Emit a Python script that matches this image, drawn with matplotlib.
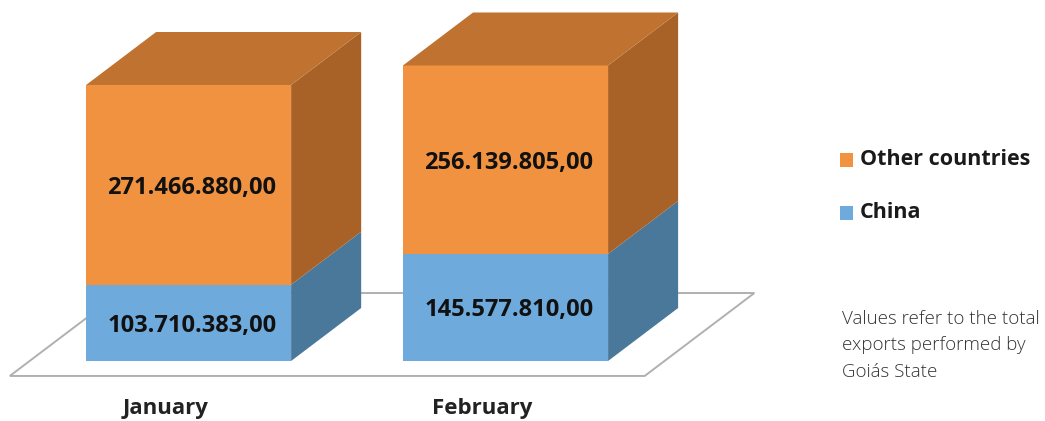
import matplotlib.pyplot as plt
from matplotlib.patches import Polygon

months = ['January', 'February']
china = [103710383.00, 145577810.00]
other = [271466880.00, 256139805.00]
series = ['China', 'Other countries']

front_c = {'China': '#6eaadc', 'Other countries': '#f09240'}
side_c = {'China': '#4a789a', 'Other countries': '#a86228'}
top_c = {'China': '#5a90bc', 'Other countries': '#c07230'}

fmt = lambda v: f'{v:,.2f}'.replace(',', 'X').replace('.', ',').replace('X', '.')

# oblique "3d" projection: x in category units, y in millions
W = 0.647          # bar width
DX, DY = 0.221, 72.0   # depth offset
def P(x, y, d):
    return (x + d * DX, y + d * DY)

fig = plt.figure(figsize=(10.45, 4.21), dpi=100)
ax = fig.add_axes([0, 0, 1, 1])
ax.set_xlim(-0.595, 2.702)
ax.set_ylim(-81.6, 490.7)
ax.axis('off')

# floor
fl, fr = -W / 2 - 0.178, 1 + W / 2 + 0.178
d0, d1 = -0.283, 1.283
ax.add_patch(Polygon([P(fl, 0, d0), P(fr, 0, d0), P(fr, 0, d1), P(fl, 0, d1)],
                     closed=True, facecolor='white', edgecolor='#b0b0b0', lw=1.4, zorder=1))

for i, m in enumerate(months):
    l, r = i - W / 2, i + W / 2
    base = 0
    vals = {'China': china[i] / 1e6, 'Other countries': other[i] / 1e6}
    for s in series:
        h = vals[s]
        lo, hi = base, base + h
        ax.add_patch(Polygon([P(l, lo, 0), P(r, lo, 0), P(r, hi, 0), P(l, hi, 0)],
                             closed=True, facecolor=front_c[s], lw=0, zorder=3))
        ax.add_patch(Polygon([P(r, lo, 0), P(r, lo, 1), P(r, hi, 1), P(r, hi, 0)],
                             closed=True, facecolor=side_c[s], lw=0, zorder=3))
        ax.text(i + 0.01, (lo + hi) / 2, fmt(h * 1e6), ha='center', va='center_baseline',
                fontsize=17, fontweight='bold', family='Open Sans', color='#111111', zorder=5)
        base = hi
    ax.add_patch(Polygon([P(l, base, 0), P(r, base, 0), P(r, base, 1), P(l, base, 1)],
                         closed=True, facecolor=top_c['Other countries'], lw=0, zorder=3))
    ax.text(P(i, 0, d0)[0] - 0.01, -61, m, ha='center', va='center_baseline',
            fontsize=16, fontweight='bold', family='Open Sans', color='#222222')

# legend
for j, s in enumerate(['Other countries', 'China']):
    y = 0.62 - j * 0.125
    fig.patches.append(plt.Rectangle((0.804, y - 0.017), 0.0125, 0.033, transform=fig.transFigure,
                                     facecolor=front_c[s], edgecolor='none'))
    fig.text(0.823, y, s, ha='left', va='center', fontsize=15.5, fontweight='bold',
             family='Open Sans', color='#1a1a1a')

fig.text(0.806, 0.18, 'Values refer to the total\nexports performed by\nGoiás State',
         ha='left', va='center', fontsize=13.5, family='Open Sans', fontweight='light',
         color='#333333', linespacing=1.6)

fig.savefig('out.png', dpi=100)
